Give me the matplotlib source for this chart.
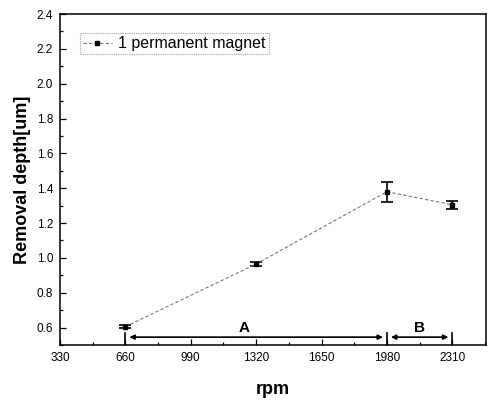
import matplotlib
matplotlib.use("Agg")
import matplotlib.pyplot as plt
from matplotlib.ticker import MultipleLocator

plt.rcParams['font.family'] = ['Liberation Sans', 'DejaVu Sans']

rpm = [660, 1320, 1980, 2310]
depth = [0.605, 0.965, 1.38, 1.305]
err = [0.01, 0.012, 0.058, 0.023]
series_label = "1 permanent magnet"
xticks = [330, 660, 990, 1320, 1650, 1980, 2310]
yticks = [0.6, 0.8, 1.0, 1.2, 1.4, 1.6, 1.8, 2.0, 2.2, 2.4]
region_bounds = [660, 1980, 2310]
region_labels = ["A", "B"]

fig = plt.figure(figsize=(4.88, 4.01), dpi=100)
ax = fig.add_axes([0.123, 0.1397, 0.873, 0.8253])

ax.errorbar(rpm, depth, yerr=err, fmt='none',
            ecolor='black', elinewidth=1.2, capsize=4.5, capthick=1.2)
ax.plot(rpm, depth, color='#777777', ls=(0, (3, 2)), lw=0.8,
        marker='s', ms=3.5, mfc='black', mec='black', label=series_label)

ax.set_xlim(330, 2480)
ax.set_ylim(0.5, 2.4)
ax.set_xticks(xticks)
ax.set_xticklabels([str(v) for v in xticks])
ax.set_yticks(yticks)
ax.set_yticklabels([f"{v:.1f}" for v in yticks])
ax.xaxis.set_minor_locator(MultipleLocator(165))
ax.yaxis.set_minor_locator(MultipleLocator(0.1))
ax.tick_params(which='both', direction='in', top=False, right=False,
               labelsize=8.5, width=0.9, pad=5)
ax.tick_params(which='major', length=4)
ax.tick_params(which='minor', length=2)
for s in ax.spines.values():
    s.set_linewidth(1.1)

ax.set_xlabel("rpm", fontsize=13, fontweight='bold', labelpad=12)
ax.set_ylabel("Removal depth[um]", fontsize=13, fontweight='bold', labelpad=4)

# region markers
for xb in region_bounds:
    ax.plot([xb, xb], [0.5, 0.57], color='black', lw=1.2)
arrow_y = 0.545
for (x0, x1), lab in zip([(region_bounds[0], region_bounds[1]),
                          (region_bounds[1], region_bounds[2])], region_labels):
    ax.annotate("", xy=(x1 - 20, arrow_y), xytext=(x0 + 20, arrow_y),
                arrowprops=dict(arrowstyle='<|-|>', color='black', lw=1.2,
                                mutation_scale=7, shrinkA=0, shrinkB=0))
    ax.text((x0 + x1) / 2 - (60 if lab == "A" else 0), 0.6, lab, ha='center',
            va='center', fontsize=11, fontweight='bold')

leg = ax.legend(loc='upper left', bbox_to_anchor=(0.046, 0.943), fontsize=11.5,
                frameon=True, fancybox=False, handlelength=1.8,
                borderpad=0.2, handletextpad=0.4, borderaxespad=0)
leg.get_frame().set_edgecolor('#888888')
leg.get_frame().set_linestyle((0, (1, 1)))
leg.get_frame().set_linewidth(0.8)

fig.savefig("out.png", dpi=100)
